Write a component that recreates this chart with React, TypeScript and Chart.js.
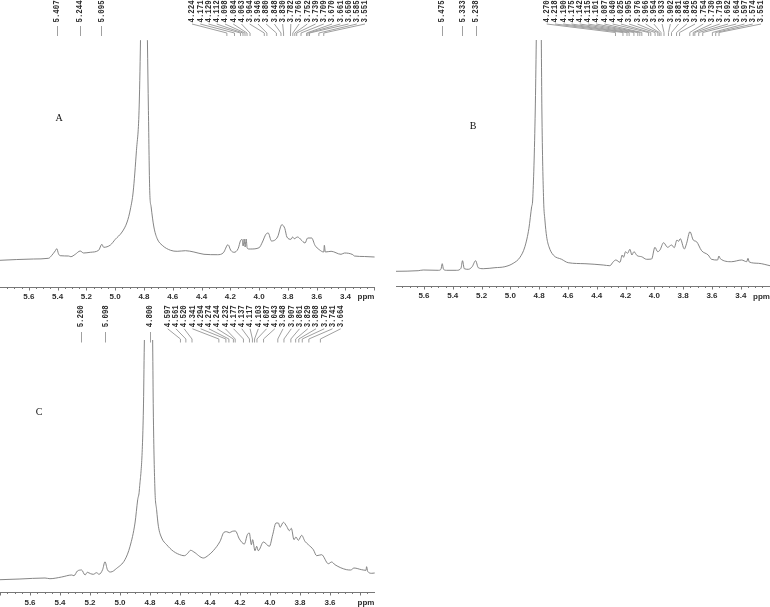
import React, { useEffect, useRef } from "react";
import { Chart, registerables } from "chart.js";

Chart.register(...registerables);

// Panel A
const aPpm = [5.8,5.568,5.463,5.44,5.417,5.405,5.394,5.382,5.324,5.308,5.277,5.243,5.219,5.173,5.115,5.092,5.08,5.033,4.999,4.952,4.917,4.894,4.875,4.852,4.834,4.824,4.8,4.776,4.769,4.76,4.75,4.731,4.708,4.673,4.615,4.569,4.511,4.453,4.383,4.29,4.248,4.216,4.197,4.174,4.146,4.128,4.118,4.111,4.104,4.097,4.09,4.083,4.07,4.058,4.0,3.977,3.953,3.937,3.914,3.872,3.842,3.821,3.807,3.779,3.767,3.756,3.733,3.709,3.681,3.663,3.635,3.612,3.582,3.551,3.547,3.54,3.5,3.431,3.407,3.349,3.338,3.268,3.198];
const aInt = [26.7,28,28.7,31.7,36,38.3,33.3,31.3,31,30.3,32.7,36,34,34.7,36.7,42.7,39.7,42,47.7,55,65,78,95,136.7,176.7,246.7,500,246.7,176.7,96.7,80,60,48.3,41.7,36.7,35.7,36.3,35,32.7,32.3,34.3,42.3,36.7,34.7,38.3,46.7,47.5,41,48,40,48,39,38,38,39.3,45,52.7,54,46,50,62.3,58.3,50,47.7,50,48.3,50,47.3,44,49,49,41.7,37.3,35,41.7,35,35.7,32.7,34,32.3,31,30.5,30];
const aSingles = ["5.407","5.244","5.095"];
const aGroup = ["4.224","4.171","4.129","4.112","4.098","4.084","4.063","3.964","3.946","3.880","3.848","3.830","3.782","3.766","3.752","3.739","3.709","3.670","3.661","3.650","3.585","3.551"];

// Panel B
const bPpm = [5.794,5.64,5.605,5.5,5.482,5.473,5.464,5.443,5.373,5.343,5.332,5.32,5.292,5.265,5.241,5.223,5.188,5.107,5.038,4.98,4.933,4.899,4.871,4.852,4.845,4.827,4.82,4.8,4.785,4.781,4.769,4.76,4.748,4.732,4.702,4.644,4.598,4.482,4.355,4.309,4.285,4.267,4.239,4.223,4.214,4.2,4.186,4.17,4.156,4.142,4.119,4.089,4.054,4.019,3.996,3.977,3.961,3.936,3.908,3.88,3.862,3.843,3.832,3.82,3.792,3.776,3.753,3.73,3.707,3.672,3.626,3.603,3.561,3.552,3.542,3.464,3.394,3.359,3.35,3.341,3.278,3.197];
const bInt = [14.7,15.3,16,15.7,16.7,22.3,16.7,15.7,15.7,17.7,25.3,17.3,16.7,19.3,25.3,18.3,17.3,18.3,19.3,22.7,28.7,39.3,57.7,79.3,86,176,246,500,246,176,86,66,49.3,39.3,31,26.7,23.3,22.3,21,20.3,24.3,26,23.7,31,28.7,34.3,32.7,36.7,31,34.3,30.3,29.3,26.7,27,38.7,34.3,36,43.3,38.7,41,38.3,46,44.7,47.3,37,42.7,54.3,46,44.3,35.3,31,26.7,26,30,27.3,24.3,26,24.3,27.7,24,22.7,20.3];
const bSingles = ["5.475","5.333","5.238"];
const bGroup = ["4.270","4.218","4.190","4.175","4.142","4.115","4.101","4.087","4.040","4.025","3.995","3.976","3.966","3.954","3.933","3.902","3.881","3.846","3.825","3.754","3.730","3.719","3.692","3.664","3.597","3.574","3.551"];

// Panel C
const cPpm = [5.8,5.667,5.5,5.467,5.389,5.322,5.307,5.284,5.256,5.233,5.218,5.196,5.178,5.156,5.14,5.116,5.1,5.084,5.062,5.022,4.967,4.933,4.9,4.882,4.871,4.844,4.838,4.8,4.782,4.778,4.767,4.756,4.744,4.722,4.689,4.644,4.589,4.571,4.551,4.529,4.507,4.444,4.411,4.378,4.333,4.307,4.289,4.271,4.251,4.231,4.204,4.171,4.151,4.138,4.124,4.116,4.1,4.089,4.078,4.044,4.004,3.982,3.96,3.944,3.933,3.911,3.889,3.871,3.858,3.84,3.827,3.811,3.789,3.767,3.744,3.711,3.689,3.656,3.611,3.589,3.567,3.489,3.462,3.44,3.389,3.36,3.356,3.349,3.322,3.302];
const cInt = [12.3,13,14,13.3,15,17,16.3,21,22,17,19.7,18.3,17.7,19.3,17.7,22.3,30.3,22.3,20,23.7,32.3,45.7,69,92.3,102,182,247,500,247,182,102,82.3,65.7,54,47.3,40.7,36.7,36.3,38.3,41.7,40,34,36.7,41.3,50.7,59.7,60.3,59.3,60.7,61,53,48,57.3,59,47.3,52.3,41.3,45.7,41.3,50,45.7,57.3,69,69,64.7,69.7,65.7,61.3,63.7,52.3,55,51.7,56.7,50.7,47.3,42.3,36.3,37.3,28.3,30,27.3,22.3,22,24,22.3,21.7,25.3,20.7,18.7,19];
const cSingles = ["5.260","5.098","4.800"];
const cGroup = ["4.597","4.561","4.520","4.341","4.294","4.274","4.244","4.232","4.177","4.137","4.117","4.103","4.087","4.043","3.948","3.907","3.861","3.829","3.808","3.785","3.741","3.664"];

const abTickLabels = ["5.6","5.4","5.2","5.0","4.8","4.6","4.4","4.2","4.0","3.8","3.6","3.4"];
const cTickLabels = ["5.6","5.4","5.2","5.0","4.8","4.6","4.4","4.2","4.0","3.8","3.6"];

type PanelCfg = {
  ppm: number[]; intensity: number[]; singles: string[]; group: string[]; tickLabels: string[];
  left: number; top: number; w: number; h: number;
  xFrom: number; xTo: number; plotTop: number; plotBottom: number;
  groupStart: number; groupEnd: number; textBase: number;
  lineStart: number; lineEnd: number; groupBend: number; tickPad: number;
  name: string; nameX: number; nameY: number; unitX: number; unitY: number;
};

const TRACE = "#777777";
const AXIS = "#777777";
const CONNECT = "#a0a0a0";
const TEXT = "#2e2e2e";

function makePlugin(p: PanelCfg) {
  return {
    id: "nmrDecor" + p.name,
    afterDraw(chart: any) {
      const { ctx } = chart;
      const sx = chart.scales.x;
      const axisY = chart.chartArea.bottom;
      ctx.save();
      ctx.strokeStyle = AXIS;
      ctx.lineWidth = 1;
      for (const t of sx.ticks) {
        const px = Math.round(sx.getPixelForValue(t.value)) + 0.5;
        const isMajor = Math.abs(t.value / 0.2 - Math.round(t.value / 0.2)) < 1e-6;
        ctx.beginPath();
        ctx.moveTo(px, axisY);
        ctx.lineTo(px, axisY + (isMajor ? 3.5 : 2));
        ctx.stroke();
      }
      const drawText = (s: string, x: number) => {
        ctx.save();
        ctx.translate(x, p.textBase);
        ctx.rotate(-Math.PI / 2);
        ctx.scale(0.92, 1.15);
        ctx.font = 'bold 8px "Liberation Mono"';
        ctx.fillStyle = TEXT;
        ctx.textAlign = "left";
        ctx.textBaseline = "middle";
        ctx.fillText(s, 0, 0);
        ctx.restore();
      };
      ctx.strokeStyle = CONNECT;
      for (const s of p.singles) {
        const x = sx.getPixelForValue(parseFloat(s));
        drawText(s, x);
        const px = Math.round(x) + 0.5;
        ctx.beginPath();
        ctx.moveTo(px, p.lineStart);
        ctx.lineTo(px, p.lineEnd);
        ctx.stroke();
      }
      const gap = (p.groupEnd - p.groupStart) / (p.group.length - 1);
      p.group.forEach((s, i) => {
        const lx = p.groupStart + i * gap;
        const x = sx.getPixelForValue(parseFloat(s));
        drawText(s, lx);
        ctx.beginPath();
        ctx.moveTo(lx, p.textBase + 1.5);
        ctx.lineTo(x, p.groupBend);
        ctx.lineTo(x, p.lineEnd);
        ctx.stroke();
      });
      ctx.fillStyle = "#111";
      ctx.font = '10px "Liberation Serif"';
      ctx.textAlign = "center";
      ctx.textBaseline = "middle";
      ctx.fillText(p.name, p.nameX, p.nameY);
      ctx.fillStyle = TEXT;
      ctx.font = 'bold 8px "Liberation Sans"';
      ctx.fillText("ppm", p.unitX, p.unitY);
      ctx.restore();
    },
  };
}

function Panel({ cfg }: { cfg: PanelCfg }) {
  const ref = useRef<HTMLCanvasElement | null>(null);
  useEffect(() => {
    const chart = new Chart(ref.current as HTMLCanvasElement, {
      type: "line",
      data: {
        datasets: [{
          data: cfg.ppm.map((x, i) => ({ x, y: cfg.intensity[i] })),
          borderColor: TRACE,
          borderWidth: 0.9,
          pointRadius: 0,
          cubicInterpolationMode: "monotone",
          fill: false,
        }],
      },
      options: {
        animation: false,
        responsive: false,
        maintainAspectRatio: false,
        layout: { padding: { left: 0, right: 0, top: cfg.plotTop, bottom: 0 } },
        plugins: { legend: { display: false }, title: { display: false }, tooltip: { enabled: false } },
        scales: {
          x: {
            type: "linear",
            reverse: true,
            min: cfg.xTo,
            max: cfg.xFrom,
            afterFit: (s: any) => {
              s.height = cfg.h - cfg.plotBottom;
              s.paddingLeft = 0;
              s.paddingRight = 0;
            },
            grid: { display: false, drawTicks: false },
            border: { display: true, color: AXIS, width: 1 },
            ticks: {
              stepSize: 0.05,
              includeBounds: false,
              autoSkip: false,
              maxRotation: 0,
              padding: cfg.tickPad,
              color: TEXT,
              font: { family: "Liberation Sans", weight: "bold", size: 8 },
              callback: (v: any) => {
                const s = Number(v).toFixed(2);
                return s.endsWith("0") && cfg.tickLabels.includes(Number(v).toFixed(1)) ? Number(v).toFixed(1) : "";
              },
            },
          },
          y: { display: false, min: 0, max: cfg.plotBottom - cfg.plotTop },
        },
      } as any,
      plugins: [makePlugin(cfg)],
    });
    return () => chart.destroy();
  }, [cfg]);
  return (
    <canvas
      ref={ref}
      width={cfg.w}
      height={cfg.h}
      style={{ position: "absolute", left: cfg.left, top: cfg.top, width: cfg.w, height: cfg.h }}
    />
  );
}

const panels: PanelCfg[] = [
  { ppm: aPpm, intensity: aInt, singles: aSingles, group: aGroup, tickLabels: abTickLabels, left: 0, top: 0, w: 375, h: 307,
    xFrom: 5.8, xTo: 3.195, plotTop: 40, plotBottom: 287, groupStart: 192, groupEnd: 365, textBase: 22.5,
    lineStart: 26, lineEnd: 36, groupBend: 33, tickPad: 5, name: "A", nameX: 59, nameY: 118, unitX: 366, unitY: 297 },
  { ppm: bPpm, intensity: bInt, singles: bSingles, group: bGroup, tickLabels: abTickLabels, left: 396, top: 0, w: 374, h: 307,
    xFrom: 5.794, xTo: 3.197, plotTop: 40, plotBottom: 286, groupStart: 150.7, groupEnd: 365, textBase: 22.5,
    lineStart: 26, lineEnd: 36, groupBend: 32.5, tickPad: 5, name: "B", nameX: 77, nameY: 126, unitX: 365.5, unitY: 297 },
  { ppm: cPpm, intensity: cInt, singles: cSingles, group: cGroup, tickLabels: cTickLabels, left: 0, top: 300, w: 375, h: 307,
    xFrom: 5.8, xTo: 3.3, plotTop: 40, plotBottom: 292, groupStart: 167.7, groupEnd: 340.7, textBase: 27.3,
    lineStart: 32, lineEnd: 42.5, groupBend: 39, tickPad: 6, name: "C", nameX: 39, nameY: 112, unitX: 366, unitY: 303 },
];

export default function App() {
  return (
    <div style={{ position: "fixed", inset: 0, overflow: "hidden", background: "#fff" }}>
      {panels.map((p) => <Panel key={p.name} cfg={p} />)}
    </div>
  );
}
